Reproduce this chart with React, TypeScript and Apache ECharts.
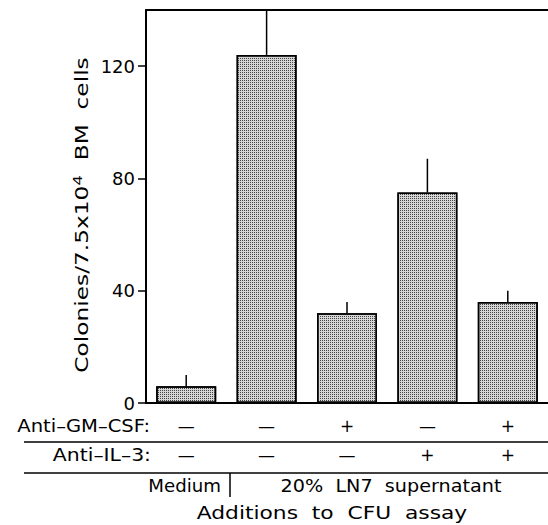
import React, { useEffect, useRef } from "react";
import * as echarts from "echarts";

const categories = ["Medium", "LN7", "LN7 + anti-GM-CSF", "LN7 + anti-IL-3", "LN7 + both"];
const means = [6, 124, 32, 75, 36];
const errors = [4, 22, 4, 12, 4];
const yTicks = [0, 40, 80, 120];
const gmCsfRow = ["—", "—", "+", "—", "+"];
const il3Row = ["—", "—", "—", "+", "+"];
const rowLabels = ["Anti–GM–CSF:", "Anti–IL–3:"];
const groupLabels = ["Medium", "20%  LN7  supernatant"];
const xTitle = "Additions  to  CFU  assay";
const yTitle = ["Colonies/7.5x10", "4", "  BM  cells"];

const FONT = "DejaVu Sans";

export default function App() {
  const ref = useRef<HTMLDivElement>(null);
  useEffect(() => {
    if (!ref.current) return;
    const chart = echarts.init(ref.current, null, { renderer: "svg" });
    const txt = { fontFamily: FONT, fontSize: 17, fill: "#000" };
    chart.setOption({
      animation: false,
      backgroundColor: "#fff",
      grid: { left: 146, right: 0, top: 10, bottom: 122 },
      xAxis: [
        {
          type: "category",
          data: categories,
          position: "bottom",
          axisLine: { lineStyle: { color: "#000", width: 2 } },
          axisTick: { show: false },
          axisLabel: {
            formatter: (_v: string, i: number) => gmCsfRow[i],
            margin: 14,
            color: "#000",
            fontFamily: FONT,
            fontSize: 17,
          },
        },
        {
          type: "category",
          data: categories,
          position: "bottom",
          offset: 29,
          axisLine: { show: false },
          axisTick: { show: false },
          axisLabel: {
            formatter: (_v: string, i: number) => il3Row[i],
            margin: 14,
            color: "#000",
            fontFamily: FONT,
            fontSize: 17,
          },
        },
        {
          type: "category",
          data: categories,
          position: "top",
          axisLine: { lineStyle: { color: "#000", width: 2 } },
          axisTick: { show: false },
          axisLabel: { show: false },
        },
      ],
      yAxis: {
        type: "value",
        min: 0,
        max: 140,
        interval: 40,
        splitLine: { show: false },
        axisLine: { show: true, lineStyle: { color: "#000", width: 2 } },
        axisTick: { show: true, length: 8, customValues: yTicks, lineStyle: { color: "#000", width: 1.5 } },
        axisLabel: {
          customValues: yTicks,
          color: "#000",
          fontFamily: FONT,
          fontSize: 18,
          margin: 11,
        },
      },
      series: [
        {
          type: "bar",
          data: means,
          barWidth: 60,
          itemStyle: {
            color: "#d6d6d6",
            borderColor: "#000",
            borderWidth: 1.5,
            decal: {
              symbol: "rect",
              symbolSize: 1,
              color: "#444",
              dashArrayX: [1, 1],
              dashArrayY: [1, 1],
              rotation: 0,
            },
          },
        },
        {
          type: "custom",
          clip: true,
          data: means.map((m, i) => [i, m, m + errors[i]]),
          renderItem: (_p: any, api: any) => {
            const base = api.coord([api.value(0), api.value(1)]);
            const top = api.coord([api.value(0), api.value(2)]);
            return {
              type: "line",
              shape: { x1: base[0], y1: base[1], x2: top[0], y2: top[1] },
              style: { stroke: "#000", lineWidth: 1.5 },
            };
          },
          z: 3,
        },
      ],
      graphic: [
        {
          type: "text",
          x: 82,
          y: 215,
          rotation: Math.PI / 2,
          scaleX: 1.37,
          style: {
            text: `{a|${yTitle[0]}}{s|${yTitle[1]}}{a|${yTitle[2]}}`,
            textAlign: "center",
            textVerticalAlign: "middle",
            rich: {
              a: { fontFamily: FONT, fontSize: 17, fill: "#000" },
              s: { fontFamily: FONT, fontSize: 12, fill: "#000", padding: [0, 0, 9, 0] },
            },
          },
        },
        { type: "text", x: 150, y: 426, scaleX: 1.15, style: { ...txt, text: rowLabels[0], textAlign: "right", textVerticalAlign: "middle" } },
        { type: "text", x: 151, y: 455, scaleX: 1.2, style: { ...txt, text: rowLabels[1], textAlign: "right", textVerticalAlign: "middle" } },
        { type: "line", shape: { x1: 24, y1: 442, x2: 548, y2: 442 }, style: { stroke: "#000", lineWidth: 1.5 } },
        { type: "line", shape: { x1: 24, y1: 473, x2: 548, y2: 473 }, style: { stroke: "#000", lineWidth: 1.5 } },
        { type: "text", x: 221, y: 486, scaleX: 1.07, style: { ...txt, text: groupLabels[0], textAlign: "right", textVerticalAlign: "middle" } },
        { type: "line", shape: { x1: 230, y1: 473, x2: 230, y2: 497 }, style: { stroke: "#000", lineWidth: 1.5 } },
        { type: "text", x: 391, y: 486, scaleX: 1.13, style: { ...txt, text: groupLabels[1], textAlign: "center", textVerticalAlign: "middle" } },
        { type: "text", x: 332, y: 513, scaleX: 1.21, style: { ...txt, fontSize: 18, text: xTitle, textAlign: "center", textVerticalAlign: "middle" } },
      ],
    });
    return () => chart.dispose();
  }, []);
  return <div ref={ref} style={{ position: "fixed", left: 0, top: 0, width: 548, height: 525 }} />;
}
